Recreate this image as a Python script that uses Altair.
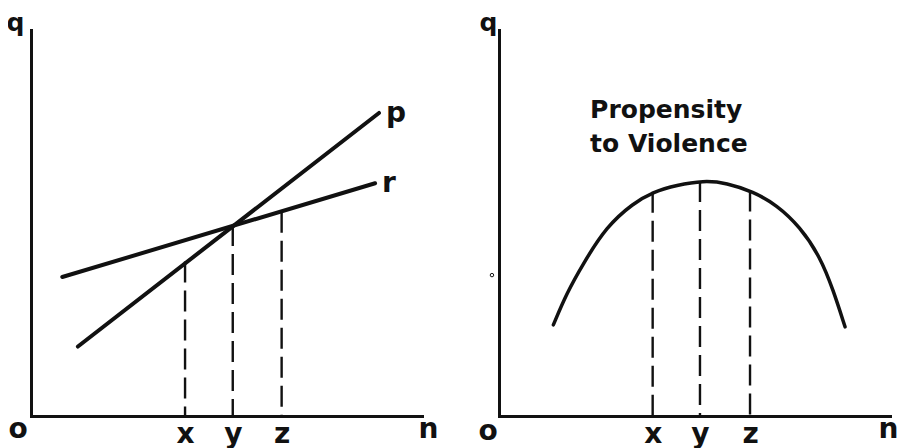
import altair as alt
import pandas as pd

FONT = "DejaVu Sans"
INK = "#111111"

# ---------------- left panel values ----------------
p_n = [1.2, 8.9]
p_q = [1.8, 7.85]
r_n = [0.8, 8.8]
r_q = [3.6, 6.03]
line_names = ["p", "r"]
left_drop_n = [3.94, 5.16, 6.41]
left_drop_q = [4.0, 4.95, 5.29]
drop_labels = ["x", "y", "z"]

# ---------------- right panel values ----------------
curve_n = [1.39, 1.73, 2.16, 2.75, 3.43, 3.95, 4.54, 5.23, 5.82, 6.50, 7.10, 7.70, 8.21, 8.55, 8.85]
curve_q = [2.36, 3.18, 3.96, 4.91, 5.51, 5.81, 5.98, 6.10, 6.04, 5.81, 5.47, 4.90, 4.13, 3.26, 2.31]
right_drop_n = [3.93, 5.14, 6.42]
right_drop_q = [5.81, 6.09, 5.84]
caption_lines = ["Propensity", "to Violence"]
caption_n = [2.33, 2.33]
caption_q = [7.72, 6.84]
speck_n = [-0.18]
speck_q = [3.65]

origin_n = [0]
origin_q = [0]
origin_label = ["o"]

W, H = 391, 386
DOMAIN = [0, 10]


def x_axis(drop_n, title_x):
    expr = " : ".join(
        f"datum.value == {v} ? '{l}'" for v, l in zip(drop_n, drop_labels)
    ) + " : ''"
    return alt.Axis(
        values=drop_n, labelExpr=expr, ticks=False, tickSize=0, grid=False,
        domain=True, domainColor=INK, domainWidth=3, domainCap="square",
        labelFont=FONT, labelFontSize=28, labelFontWeight="bold", labelColor=INK,
        labelBaseline="alphabetic", labelPadding=26, labelFlush=False,
        labelOverlap=False, title="n", titleFont=FONT, titleFontSize=28,
        titleFontWeight="bold", titleColor=INK, titleAngle=0,
        titleAlign="center", titleBaseline="alphabetic", titleX=title_x, titleY=21,
    )


def y_axis(title_x, title_y):
    return alt.Axis(
        labels=False, ticks=False, tickSize=0, grid=False, domain=True,
        domainColor=INK, domainWidth=3, domainCap="square", title="q",
        titleFont=FONT, titleFontSize=25, titleFontWeight="bold", titleColor=INK,
        titleAngle=0, titleAlign="center", titleBaseline="alphabetic",
        titleX=title_x, titleY=title_y,
    )


def enc_x(field, ax):
    return alt.X(field, type="quantitative", scale=alt.Scale(domain=DOMAIN, nice=False, zero=False), axis=ax)


def enc_y(field, ax):
    return alt.Y(field, type="quantitative", scale=alt.Scale(domain=DOMAIN, nice=False, zero=False), axis=ax)


# ---------------- left panel ----------------
lx = x_axis(left_drop_n, 397)
ly = y_axis(-16, 0)

lines_df = pd.DataFrame({
    "series": ["p"] * len(p_n) + ["r"] * len(r_n),
    "n": p_n + r_n,
    "q": p_q + r_q,
})
ends_df = pd.DataFrame({"series": line_names, "n": [p_n[-1], r_n[-1]], "q": [p_q[-1], r_q[-1]]})
ldrop_df = pd.DataFrame({"n": left_drop_n, "q": left_drop_q})
origin_df = pd.DataFrame({"n": origin_n, "q": origin_q, "t": origin_label})

left_lines = alt.Chart(lines_df).mark_line(color=INK, strokeWidth=4, strokeCap="round").encode(
    x=enc_x("n", lx), y=enc_y("q", ly), detail="series:N"
)
left_labels = alt.Chart(ends_df).mark_text(
    font=FONT, fontSize=28, fontWeight="bold", color=INK, align="left",
    baseline="alphabetic", dx=7, dy=9,
).encode(x=enc_x("n", lx), y=enc_y("q", ly), text="series:N")
left_drops = alt.Chart(ldrop_df).mark_rule(color=INK, strokeWidth=2.4, strokeDash=[21, 8]).encode(
    x=enc_x("n", lx), y=enc_y("q", ly), y2=alt.datum(0)
)
left_origin = alt.Chart(origin_df).mark_text(
    font=FONT, fontSize=28, fontWeight="bold", color=INK, align="center",
    baseline="alphabetic", dx=-13, dy=22,
).encode(x=enc_x("n", lx), y=enc_y("q", ly), text="t:N")

left = alt.layer(left_lines, left_drops, left_labels, left_origin).properties(width=W, height=H)

# ---------------- right panel ----------------
rx = x_axis(right_drop_n, 389)
ry = y_axis(-11, 0)

curve_df = pd.DataFrame({"n": curve_n, "q": curve_q})
rdrop_df = pd.DataFrame({"n": right_drop_n, "q": right_drop_q})
caption_df = pd.DataFrame({"n": caption_n, "q": caption_q, "t": caption_lines})
speck_df = pd.DataFrame({"n": speck_n, "q": speck_q})

right_curve = alt.Chart(curve_df).mark_line(
    color=INK, strokeWidth=3.5, interpolate="basis", strokeCap="round"
).encode(x=enc_x("n", rx), y=enc_y("q", ry))
right_drops = alt.Chart(rdrop_df).mark_rule(color=INK, strokeWidth=2.4, strokeDash=[21, 8]).encode(
    x=enc_x("n", rx), y=enc_y("q", ry), y2=alt.datum(0)
)
right_caption = alt.Chart(caption_df).mark_text(
    font=FONT, fontSize=25, fontWeight="bold", color=INK, align="left", baseline="alphabetic"
).encode(x=enc_x("n", rx), y=enc_y("q", ry), text="t:N")
right_origin = alt.Chart(origin_df).mark_text(
    font=FONT, fontSize=28, fontWeight="bold", color=INK, align="center",
    baseline="alphabetic", dx=-11, dy=24,
).encode(x=enc_x("n", rx), y=enc_y("q", ry), text="t:N")
right_speck = alt.Chart(speck_df).mark_point(
    shape="circle", size=12, filled=False, color=INK, strokeWidth=1, opacity=1
).encode(x=enc_x("n", rx), y=enc_y("q", ry))

right = alt.layer(right_curve, right_drops, right_caption, right_origin, right_speck).properties(width=W, height=H)

chart = alt.hconcat(left, right, spacing=77, bounds="flush").properties(
    autosize=alt.AutoSizeParams(type="none"),
    padding={"left": 23, "top": 22, "right": 867, "bottom": 410},
    background="white",
).configure_view(stroke=None)

chart.save("out.html", embed_options={"renderer": "svg", "actions": False})
